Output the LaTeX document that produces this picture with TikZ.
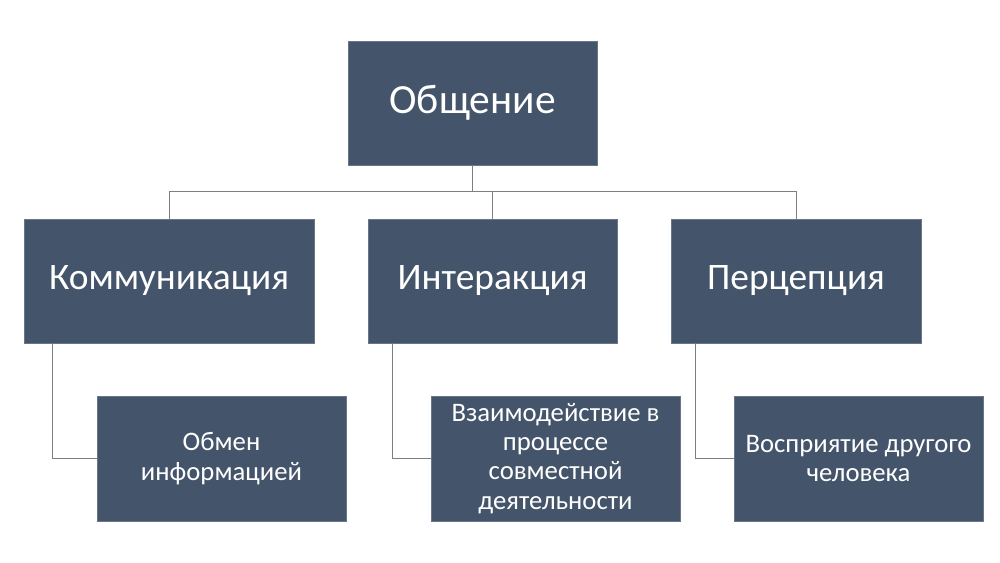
\documentclass[tikz,border=0pt]{standalone}
\usepackage{fontspec}
\setmainfont{Carlito}
\usepackage{tikz}

\definecolor{slate}{HTML}{44546A}
\definecolor{wire}{HTML}{7F7F7F}

\tikzset{
	box/.style={shape=rectangle,fill=slate,draw=slate!80!white,text=white,align=center,inner sep=2pt},
	top/.style={box,minimum width=6.225cm,minimum height=3.1cm,font=\fontsize{29.5}{35}\selectfont},
	mid/.style={box,minimum height=3.1cm,font=\fontsize{26.6}{32}\selectfont},
	low/.style={box,minimum width=6.225cm,minimum height=3.125cm,font=\fontsize{19}{20.8}\selectfont},
	wire/.style={draw=wire,line width=0.6pt}
}

\begin{document}
\begin{tikzpicture}[x=0.025cm,y=-0.025cm]

	\useasboundingbox (0,0) rectangle (1000,562);

	\node[top] (g) at (472.5, 103)     {Общение};

	\node[mid,minimum width=7.25cm] (k) at (169, 281)     {Коммуникация};
	\node[mid,minimum width=6.225cm] (i) at (492.5, 281)     {Интеракция};
	\node[mid,minimum width=6.25cm] (p) at (796, 281)     {Перцепция};

	\node[low] (o) at (221.5, 458.5)     {Обмен\\информацией};
	\node[low] (v) at (555.5, 458.5)     {Взаимодействие в\\процессе\\совместной\\деятельности};
	\node[low] (w) at (858.5, 458.5)     {Восприятие другого\\человека};

	\coordinate (bus) at (472.5, 191);

	\path[wire] (g.south) edge (bus);
	\draw[wire] (bus) -| (k.north);
	\draw[wire] (bus) -| (i.north);
	\draw[wire] (bus) -| (p.north);

	\draw[wire] ([xshift=0.725cm]k.south west) |- (o.west);
	\draw[wire] ([xshift=0.625cm]i.south west) |- (v.west);
	\draw[wire] ([xshift=0.625cm]p.south west) |- (w.west);

\end{tikzpicture}
\end{document}
